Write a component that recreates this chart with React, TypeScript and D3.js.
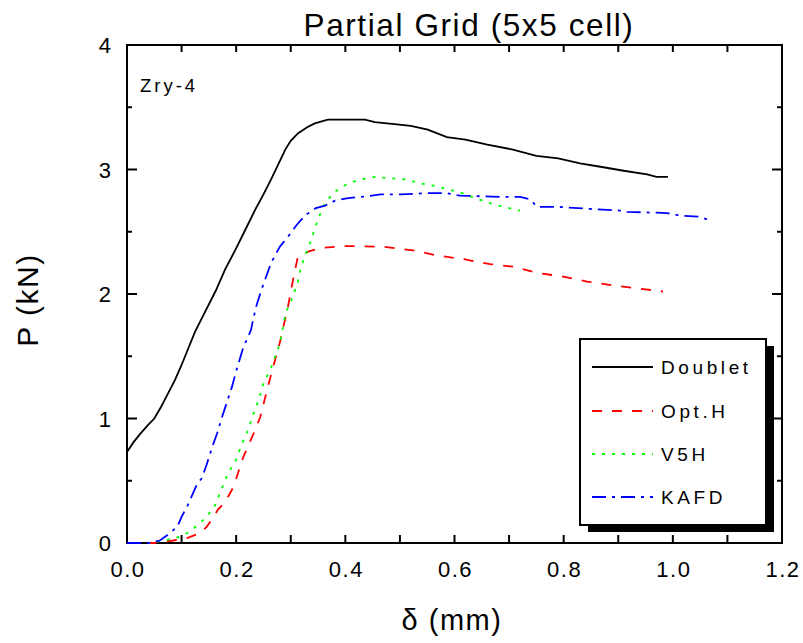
import React from "react";
import * as d3 from "d3";

const doubletX = [0,0.012,0.025,0.037,0.05,0.062,0.075,0.088,0.1,0.112,0.125,0.14,0.163,0.18,0.198,0.215,0.234,0.25,0.264,0.278,0.29,0.3,0.313,0.33,0.344,0.368,0.4,0.436,0.454,0.49,0.52,0.551,0.586,0.62,0.66,0.707,0.75,0.79,0.83,0.87,0.91,0.953,0.97,0.991];
const doubletP = [0.73,0.81,0.88,0.94,1.0,1.09,1.2,1.31,1.43,1.56,1.7,1.83,2.03,2.2,2.35,2.5,2.67,2.8,2.92,3.05,3.16,3.23,3.29,3.34,3.37,3.4,3.4,3.4,3.38,3.365,3.35,3.32,3.26,3.24,3.2,3.16,3.11,3.09,3.05,3.02,2.99,2.96,2.94,2.94];

const optHX = [0,0.05,0.085,0.11,0.134,0.146,0.16,0.167,0.18,0.195,0.213,0.231,0.244,0.259,0.27,0.28,0.295,0.304,0.313,0.332,0.356,0.4,0.469,0.524,0.568,0.616,0.665,0.707,0.751,0.799,0.843,0.89,0.927,0.982];
const optHP = [0,0,0.02,0.04,0.08,0.13,0.22,0.27,0.33,0.45,0.69,0.87,1.01,1.27,1.45,1.61,1.9,2.11,2.3,2.34,2.37,2.385,2.38,2.35,2.31,2.28,2.24,2.22,2.17,2.14,2.1,2.07,2.05,2.02];

const v5hX = [0,0.042,0.066,0.09,0.115,0.146,0.161,0.185,0.2,0.21,0.222,0.231,0.242,0.249,0.265,0.28,0.291,0.304,0.313,0.319,0.337,0.346,0.359,0.377,0.405,0.429,0.454,0.48,0.509,0.537,0.561,0.588,0.614,0.638,0.665,0.689,0.72];
const v5hP = [0,0,0.02,0.04,0.09,0.21,0.3,0.56,0.67,0.79,0.91,1.03,1.16,1.27,1.42,1.6,1.85,1.98,2.1,2.22,2.43,2.55,2.7,2.81,2.89,2.92,2.94,2.93,2.92,2.89,2.87,2.84,2.81,2.77,2.73,2.7,2.67];

const kafdX = [0,0.04,0.06,0.073,0.092,0.1,0.112,0.128,0.137,0.146,0.156,0.165,0.174,0.183,0.192,0.2,0.213,0.227,0.236,0.246,0.255,0.264,0.28,0.295,0.31,0.326,0.346,0.363,0.381,0.405,0.429,0.465,0.502,0.551,0.586,0.61,0.684,0.72,0.739,0.751,0.788,0.861,0.903,0.916,0.99,1.013,1.05,1.068];
const kafdP = [0,0,0.02,0.06,0.13,0.21,0.31,0.47,0.52,0.63,0.77,0.88,1.01,1.13,1.25,1.38,1.57,1.71,1.89,2.03,2.14,2.25,2.38,2.46,2.55,2.63,2.69,2.71,2.75,2.77,2.78,2.8,2.8,2.81,2.81,2.79,2.78,2.78,2.76,2.7,2.7,2.68,2.67,2.66,2.65,2.63,2.62,2.59];

const seriesNames = ["Doublet", "Opt.H", "V5H", "KAFD"];
const seriesColors = ["#000000", "#ff0000", "#00ff00", "#0000ff"];
const seriesDash = ["", "10,10", "3,7", "14,6,3,6"];
const seriesXs = [doubletX, optHX, v5hX, kafdX];
const seriesPs = [doubletP, optHP, v5hP, kafdP];

const xTickLabels = [0, 0.2, 0.4, 0.6, 0.8, 1.0, 1.2];
const xMinorTicks = d3.range(0, 1.2001, 0.1);
const yTickLabels = [0, 1, 2, 3, 4];
const yMinorTicks = [0.5, 1.5, 2.5, 3.5];

const titleText = "Partial Grid (5x5 cell)";
const xLabelText = "δ (mm)";
const yLabelText = "P (kN)";
const noteText = "Zry-4";

const FONT = "'Liberation Sans', Arial, Helvetica, sans-serif";

export default function App() {
  const W = 803, H = 643;
  const x = d3.scaleLinear().domain([0, 1.2]).range([127, 782]);
  const y = d3.scaleLinear().domain([0, 4]).range([543, 45]);
  const line = d3.line<[number, number]>().x(d => x(d[0])).y(d => y(d[1]));

  const legendX = 580, legendY = 339, legendW = 186, legendH = 186;
  const entryY = [367, 411, 454, 497];

  return (
    <svg width={W} height={H} style={{ position: "absolute", left: 0, top: 0, background: "#fff" }} fontFamily={FONT}>
      <rect x={0} y={0} width={W} height={H} fill="#fff" />
      <text x={469} y={36} textAnchor="middle" fontSize={31.5} letterSpacing={1.6} fill="#000">{titleText}</text>

      {/* frame */}
      <rect x={x(0)} y={y(4)} width={x(1.2) - x(0)} height={y(0) - y(4)} fill="none" stroke="#000" strokeWidth={2} />

      {/* x ticks */}
      {xMinorTicks.map((t, i) => (
        <g key={"xt" + i}>
          <line x1={x(t)} x2={x(t)} y1={y(0)} y2={y(0) - 8} stroke="#000" strokeWidth={2} />
          <line x1={x(t)} x2={x(t)} y1={y(4)} y2={y(4) + 7} stroke="#000" strokeWidth={2} />
        </g>
      ))}
      {xTickLabels.map((t, i) => (
        <text key={"xl" + i} x={x(t) + 1} y={577} textAnchor="middle" fontSize={22} letterSpacing={1.5} fill="#000">{d3.format(".1f")(t)}</text>
      ))}
      {/* y ticks */}
      {yTickLabels.map((t, i) => (
        <g key={"yt" + i}>
          <line x1={x(0)} x2={x(0) + 10} y1={y(t)} y2={y(t)} stroke="#000" strokeWidth={2} />
          <line x1={x(1.2)} x2={x(1.2) - 10} y1={y(t)} y2={y(t)} stroke="#000" strokeWidth={2} />
          <text x={111} y={y(t) + 8} textAnchor="end" fontSize={22} fill="#000">{d3.format("d")(t)}</text>
        </g>
      ))}
      {yMinorTicks.map((t, i) => (
        <g key={"ym" + i}>
          <line x1={x(0)} x2={x(0) + 5} y1={y(t)} y2={y(t)} stroke="#000" strokeWidth={2} />
          <line x1={x(1.2)} x2={x(1.2) - 5} y1={y(t)} y2={y(t)} stroke="#000" strokeWidth={2} />
        </g>
      ))}

      {seriesNames.map((n, i) => (
        <path key={n} d={line(seriesXs[i].map((v, j) => [v, seriesPs[i][j]] as [number, number])) || ""}
          fill="none" stroke={seriesColors[i]} strokeWidth={1.8} strokeDasharray={seriesDash[i] || undefined} />
      ))}

      <text x={452} y={630} textAnchor="middle" fontSize={29} letterSpacing={1.5} fill="#000">{xLabelText}</text>
      <text transform={`translate(38,${(y(0) + y(4)) / 2 + 6}) rotate(-90)`} textAnchor="middle" fontSize={30} letterSpacing={1.5} fill="#000">{yLabelText}</text>

      <text x={140} y={92} fontSize={18.5} letterSpacing={3} fill="#000">{noteText}</text>

      {/* legend */}
      <rect x={legendX + 8} y={legendY + 7} width={legendW} height={legendH} fill="#000" />
      <rect x={legendX} y={legendY} width={legendW} height={legendH} fill="#fff" stroke="#000" strokeWidth={2} />
      {seriesNames.map((n, i) => (
        <g key={"lg" + i}>
          <line x1={592} x2={653} y1={entryY[i]} y2={entryY[i]} stroke={seriesColors[i]} strokeWidth={2} strokeDasharray={seriesDash[i] || undefined} />
          <text x={661} y={entryY[i] + 7} fontSize={19} letterSpacing={3.6} fill="#000">{n}</text>
        </g>
      ))}
    </svg>
  );
}
